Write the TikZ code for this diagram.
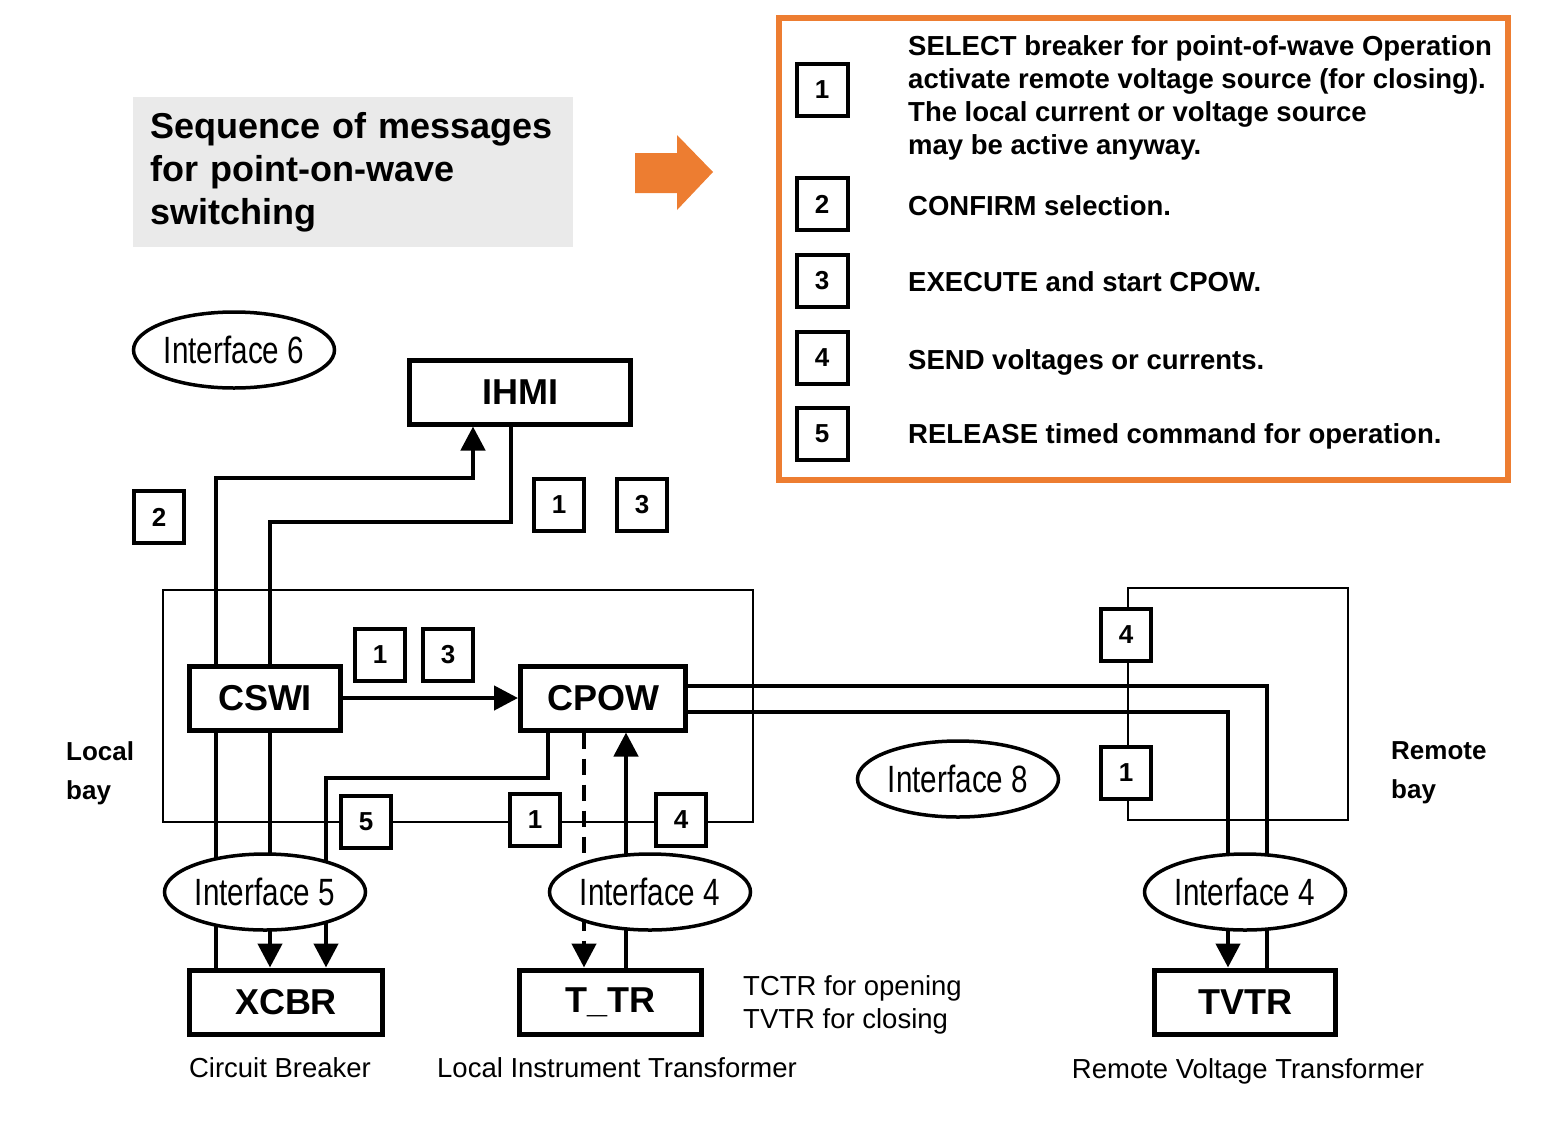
\documentclass[tikz,border=0pt]{standalone}
\usepackage{fontspec}
\setmainfont{Liberation Sans}
\newfontfamily\narrowfont[FakeStretch=0.78]{Liberation Sans}
\usetikzlibrary{arrows.meta,shapes.geometric,backgrounds}
\definecolor{titlegray}{HTML}{EAEAEA}
\definecolor{legendorange}{HTML}{ED7D31}
\tikzset{
  lnbox/.style={draw, line width=5pt, fill=white, inner sep=0pt, minimum height=64pt,
    font=\fontsize{36}{40}\selectfont\bfseries},
  numbox/.style={draw, line width=4pt, fill=white, inner sep=0pt, minimum width=50pt,
    minimum height=52pt, font=\fontsize{26}{28}\selectfont\bfseries},
  iface/.style={ellipse, draw, line width=3.5pt, fill=white, inner sep=0pt,
    minimum width=201pt, minimum height=76pt, font=\narrowfont\fontsize{38}{40}\selectfont},
  conn/.style={line width=4.5pt},
  bay/.style={line width=1.8pt},
  caption/.style={inner sep=0pt, font=\fontsize{27.5}{33}\selectfont},
  baylabel/.style={anchor=west, align=left, inner sep=0pt, font=\fontsize{26}{39}\selectfont\bfseries},
  keytext/.style={anchor=west, align=left, inner sep=0pt, font=\fontsize{27.5}{33}\selectfont\bfseries}
}

\begin{document}
\begin{tikzpicture}[x=1pt, y=-1pt, >={Triangle[length=24pt,width=24pt]}]
  \useasboundingbox (0,0) rectangle (1554,1125);

  % Title and orange arrow
  \node[fill=titlegray, anchor=north west, minimum height=150pt, text width=412pt,
    inner xsep=14pt, inner ysep=0pt, align=left,
    font=\fontsize{36}{43}\selectfont\bfseries] (title) at (133,97)
    {\hspace*{3pt}Sequence of messages\\\hspace*{3pt}for point-on-wave\\\hspace*{3pt}switching};
  \fill[legendorange] (635,153) -- (677,153) -- (677,135) -- (713,172)
    -- (677,210) -- (677,193) -- (635,193) -- cycle;

  % Legend
  \node[draw=legendorange, line width=6pt, minimum width=729pt, minimum height=462pt,
    inner sep=0pt] (legend) at (1143.5,249) {};
  \foreach \k/\y in {1/90,2/204,3/281,4/358,5/434}
    \node[numbox, minimum width=51pt] (key\k) at (822,\y) {\k};
  \node[keytext] (keytext1) at (908,98) {SELECT breaker for point-of-wave Operation\\
    activate remote voltage source (for closing).\\The local current or voltage source\\
    may be active anyway.};
  \node[keytext] (keytext2) at (908,206) {CONFIRM selection.};
  \node[keytext] (keytext3) at (908,282) {EXECUTE and start CPOW.};
  \node[keytext] (keytext4) at (908,362) {SEND voltages or currents.};
  \node[keytext] (keytext5) at (908,436) {RELEASE timed command for operation.};

  % Logical nodes
  \node[lnbox, minimum width=221pt] (ihmi) at (520,392) {IHMI};
  \node[lnbox, minimum width=151pt] (cswi) at (265,698) {CSWI};
  \node[lnbox, minimum width=165pt] (cpow) at (603,698) {CPOW};
  \node[lnbox, minimum width=193pt] (xcbr) at (286,1002) {XCBR};
  \node[lnbox, minimum width=182pt] (ttr) at (610,1002) {T\_TR};
  \node[lnbox, minimum width=181pt] (tvtr) at (1245,1002) {TVTR};

  % Interfaces
  \node[iface] (if6) at (234,350) {Interface 6};
  \node[iface] (if5) at (265,892) {Interface 5};
  \node[iface] (if4l) at (650,892) {Interface 4};
  \node[iface] (if8) at (958,779) {Interface 8};
  \node[iface] (if4r) at (1245,892) {Interface 4};

  % Message numbers
  \node[numbox] (m2) at (159,517) {2};
  \node[numbox] (m1a) at (559,505) {1};
  \node[numbox] (m3a) at (642,505) {3};
  \node[numbox] (m1b) at (380,655) {1};
  \node[numbox] (m3b) at (448,655) {3};
  \node[numbox] (m5) at (366,822) {5};
  \node[numbox] (m1c) at (535,820) {1};
  \node[numbox] (m4a) at (681,820) {4};
  \node[numbox] (m4r) at (1126,635) {4};
  \node[numbox] (m1r) at (1126,773) {1};

  % Texts
  \node[baylabel] (localbay) at (66,773) {Local\\bay};
  \node[baylabel] (remotebay) at (1391,773) {Remote\\bay};
  \node[caption, anchor=west, align=left] (ttrnote) at (743,1005) {TCTR for opening\\TVTR for closing};
  \node[caption] (cbcap) at (280,1068) {Circuit Breaker};
  \node[caption] (litcap) at (617,1068) {Local Instrument Transformer};
  \node[caption] (rvtcap) at (1248,1071) {Remote Voltage Transformer};

  \begin{pgfonlayer}{background}
    % Bays
    \draw[bay] (163,590) rectangle (753,822);
    \draw[bay] (1128,588) rectangle (1348,820);

    % CSWI <-> IHMI
    \draw[conn,->] (cswi.north -| 216,0) |- (473,478) -- (ihmi.south -| 473,0);
    \draw[conn] (cswi.north -| 270,0) |- (511,522) -- (ihmi.south -| 511,0);

    % CSWI -> CPOW
    \draw[conn,->] (cswi) -- (cpow);

    % down to XCBR
    \draw[conn] (cswi.south -| 216,0) -- (xcbr.north -| 216,0);
    \draw[conn,->] (cswi.south -| 270,0) -- (xcbr.north -| 270,0);
    \draw[conn,->] (cpow.south -| 548,0) |- (326,778) -- (xcbr.north -| 326,0);

    % CPOW <-> T_TR
    \draw[conn,->,dash pattern=on 16pt off 10pt] (cpow.south -| 584,0) -- (ttr.north -| 584,0);
    \draw[conn,->] (ttr.north -| 626,0) -- (cpow.south -| 626,0);

    % CPOW <-> TVTR
    \draw[conn] (cpow.east |- 0,686) -| (tvtr.north -| 1267,0);
    \draw[conn,->] (cpow.east |- 0,712) -| (tvtr.north -| 1228,0);
  \end{pgfonlayer}
\end{tikzpicture}
\end{document}
